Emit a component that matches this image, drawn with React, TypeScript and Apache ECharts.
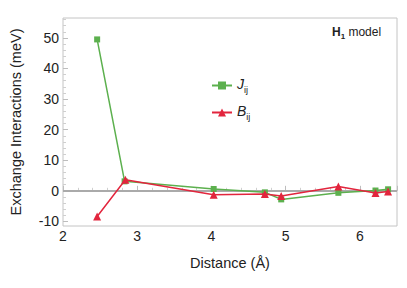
import React, { useEffect, useRef } from "react";
import * as echarts from "echarts";

const jDist = [2.46, 2.83, 4.03, 4.72, 4.94, 5.71, 6.21, 6.38];
const jVals = [49.5, 3.1, 0.6, -0.5, -2.8, -0.65, 0.1, 0.5];
const bDist = [2.46, 2.84, 4.03, 4.72, 4.94, 5.71, 6.21, 6.38];
const bVals = [-8.4, 3.6, -1.3, -1.0, -1.7, 1.4, -0.7, -0.2];
const yMajor = [-10, 0, 10, 20, 30, 40, 50];
const yMinor = [-8, -6, -4, -2, 2, 4, 6, 8, 12, 14, 16, 18, 22, 24, 26, 28, 32, 34, 36, 38, 42, 44, 46, 48, 52, 54, 56];

const FONT = "'Liberation Sans', Arial, Helvetica, sans-serif";
const GREEN = "#5cb04e";
const RED = "#e2253d";
const INK = "#222222";

export default function App() {
  const ref = useRef<HTMLDivElement>(null);
  useEffect(() => {
    if (!ref.current) return;
    const chart = echarts.init(ref.current, null, { renderer: "svg" });
    const yBase = {
      type: "value",
      min: -11.5,
      max: 56.5,
      position: "left",
      splitLine: { show: false },
      axisLine: { show: false },
    };
    chart.setOption({
      animation: false,
      backgroundColor: "#ffffff",
      grid: {
        left: 61,
        right: 10,
        top: 18,
        bottom: 62,
        show: true,
        borderColor: "#c4c4c4",
        borderWidth: 1,
        backgroundColor: "transparent",
      },
      xAxis: {
        type: "value",
        min: 2,
        max: 6.5,
        interval: 1,
        name: "Distance (Å)",
        nameLocation: "middle",
        nameGap: 29,
        nameTextStyle: { fontFamily: FONT, fontSize: 14.5, color: INK },
        axisLine: { show: false },
        splitLine: { show: false },
        axisTick: { inside: true, length: 5, lineStyle: { color: "#bdbdbd" } },
        minorTick: { show: true, splitNumber: 5, length: 3, lineStyle: { color: "#cfcfcf" } },
        axisLabel: { fontFamily: FONT, fontSize: 14, color: INK, margin: 3, showMaxLabel: false },
      },
      yAxis: [
        {
          ...yBase,
          name: "Exchange Interactions (meV)",
          nameLocation: "middle",
          nameGap: 40,
          nameTextStyle: { fontFamily: FONT, fontSize: 14.5, color: INK },
          axisTick: { inside: true, length: 5, customValues: yMajor, lineStyle: { color: "#bdbdbd" } },
          axisLabel: { fontFamily: FONT, fontSize: 14, color: INK, margin: 4, customValues: yMajor },
        },
        {
          ...yBase,
          axisTick: { inside: true, length: 3, customValues: yMinor, lineStyle: { color: "#cfcfcf" } },
          axisLabel: { show: false },
        },
      ],
      legend: {
        orient: "vertical",
        left: 206,
        top: 72,
        itemGap: 10,
        itemWidth: 20,
        itemHeight: 10,
        data: ["J", "B"],
        formatter: (n: string) => `{main|${n}}{sub|ij}`,
        textStyle: {
          fontFamily: FONT,
          color: INK,
          rich: {
            main: { fontStyle: "italic", fontSize: 14, fontFamily: FONT, color: INK, padding: [0, 0, 3, 0], verticalAlign: "bottom" },
            sub: { fontSize: 9, fontFamily: FONT, color: INK, verticalAlign: "bottom" },
          },
        },
      },
      graphic: [
        {
          type: "text",
          left: 332,
          top: 26,
          style: {
            text: "{b|H}{bs|1}{n| model}",
            rich: {
              b: { fontFamily: FONT, fontSize: 12, fontWeight: "bold", fill: INK, padding: [0, 0, 2, 0], verticalAlign: "bottom" },
              bs: { fontFamily: FONT, fontSize: 8, fontWeight: "bold", fill: INK, verticalAlign: "bottom" },
              n: { fontFamily: FONT, fontSize: 12, fill: INK, padding: [0, 0, 2, 0], verticalAlign: "bottom" },
            },
          },
        },
      ],
      series: [
        {
          name: "J",
          type: "line",
          data: jDist.map((d, i) => [d, jVals[i]]),
          symbol: "rect",
          symbolSize: 6,
          lineStyle: { color: GREEN, width: 1.5 },
          itemStyle: { color: GREEN },
          z: 3,
          markLine: {
            silent: true,
            symbol: ["none", "none"],
            label: { show: false },
            lineStyle: { color: "#aaaaaa", width: 2, type: "solid" },
            data: [{ yAxis: 0 }],
            z: 1,
          },
        },
        {
          name: "B",
          type: "line",
          data: bDist.map((d, i) => [d, bVals[i]]),
          symbol: "triangle",
          symbolSize: 8,
          lineStyle: { color: RED, width: 1.5 },
          itemStyle: { color: RED },
          z: 4,
        },
      ],
    });
    return () => chart.dispose();
  }, []);
  return <div ref={ref} style={{ position: "fixed", left: 0, top: 0, width: 407, height: 288 }} />;
}
